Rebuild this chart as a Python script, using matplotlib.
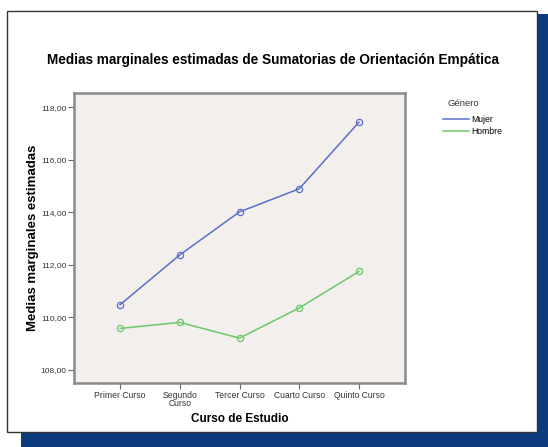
import matplotlib.pyplot as plt
from matplotlib.patches import Rectangle
from matplotlib.lines import Line2D

cursos = ['Primer Curso', 'Segundo\nCurso', 'Tercer Curso', 'Cuarto Curso', 'Quinto Curso']
mujer = [110.48, 112.38, 114.02, 114.90, 117.44]
hombre = [109.58, 109.81, 109.21, 110.36, 111.75]
yticks = [108, 110, 112, 114, 116, 118]

plt.rcParams['font.family'] = ['Liberation Sans', 'DejaVu Sans']

W, H = 548, 447
fig = plt.figure(figsize=(W / 100, H / 100), dpi=100)

# dark blue shadow and white framed panel
fig.patches.append(Rectangle((21 / W, 0), 1 - 21 / W, 1 - 14 / H, transform=fig.transFigure,
                             facecolor='#0b3b7c', edgecolor='none', zorder=0))
fig.patches.append(Rectangle((7 / W, 1 - 432 / H), 530 / W, 421 / H, transform=fig.transFigure,
                             facecolor='white', edgecolor='#333333', linewidth=1.0, zorder=1))

ax = fig.add_axes([74 / W, 1 - 383 / H, 331 / W, 290 / H])
ax.set_zorder(2)
ax.set_facecolor('#f2efec')

x = range(len(cursos))
ax.plot(x, mujer, color='#5b6fc6', lw=1.1, marker='o', ms=4.5, mfc='none', mec='#5b6fc6', mew=0.9)
ax.plot(x, hombre, color='#6cc96c', lw=1.1, marker='o', ms=4.5, mfc='none', mec='#6cc96c', mew=0.9)

ax.set_xlim(-0.77, 4.77)
ax.set_ylim(107.5, 118.55)
ax.set_xticks(list(x))
ax.set_xticklabels(cursos, fontsize=6.2, color='#333333', linespacing=0.9)
ax.set_yticks(yticks)
ax.set_yticklabels([('%.2f' % v).replace('.', ',') for v in yticks], fontsize=6.0, color='#333333')
ax.tick_params(length=4, width=0.8, color='#666666', pad=1.5)

for s in ax.spines.values():
    s.set_color('#8a8a8a')
    s.set_linewidth(1.8)

ax.set_xlabel('Curso de Estudio', fontsize=8.5, fontweight='bold', labelpad=4)
ax.set_ylabel('Medias marginales estimadas', fontsize=9.5, fontweight='bold', labelpad=1)

fig.text(273 / W, 1 - 60 / H, 'Medias marginales estimadas de Sumatorias de Orientación Empática',
         ha='center', va='center', fontsize=9.8, fontweight='bold', zorder=3)

# legend
fig.text(463 / W, 1 - 103 / H, 'Género', ha='center', va='center', fontsize=6.8, color='#333333', zorder=3)
leg_handles = [Line2D([0], [0], color='#5b6fc6', lw=1.1), Line2D([0], [0], color='#6cc96c', lw=1.1)]
leg = fig.legend(leg_handles, ['Mujer', 'Hombre'], loc='upper left',
                 bbox_to_anchor=(439 / W, 1 - 111 / H), frameon=False, fontsize=6.2,
                 handlelength=3.0, handletextpad=0.3, labelspacing=0.3, borderpad=0)
leg.set_zorder(3)

fig.savefig('out.png', dpi=100)
